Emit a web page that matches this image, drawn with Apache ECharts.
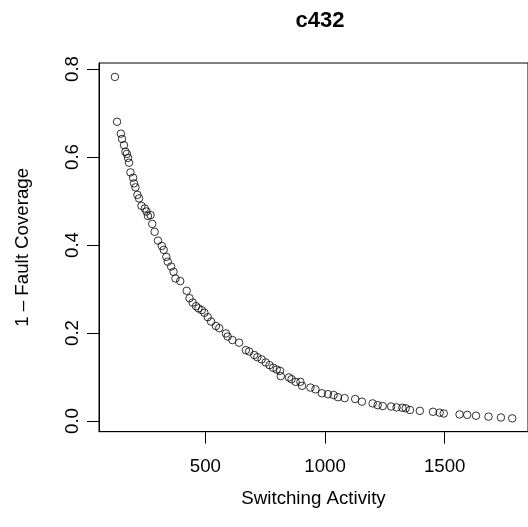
<!DOCTYPE html>
<html>
<head>
<meta charset="utf-8">
<script src="https://cdn.jsdelivr.net/npm/echarts@6/dist/echarts.min.js"></script>
<style>
html,body{margin:0;padding:0;background:#fff;}
#chart{width:528px;height:527px;}
</style>
</head>
<body>
<div id="chart"></div>
<script>
// Switching activity (x) and 1 - fault coverage (y)
const switchingActivity = [
  122,131,147,152,160,166,172,177,181,187,198,202,208,216,223,233,247,254,260,
  271,278,288,302,318,326,337,343,357,367,375,395,422,434,447,461,471,485,496,
  510,524,544,558,586,593,613,641,669,683,704,717,
  735,752,768,783,798,
  812,815,849,860,877,897,904,939,960,987,1012,1036,1054,1082,1126,1154,1199,
  1220,1241,1276,1299,1323,1337,1355,1396,1451,1479,1496,1562,1594,1631,1683,
  1735,1782
];
const faultCoverageGap = [
  0.782,0.680,0.653,0.641,0.627,0.612,0.607,0.598,0.587,0.565,0.553,0.540,0.531,0.514,0.506,0.489,0.483,0.476,0.466,
  0.468,0.448,0.430,0.410,0.398,0.389,0.373,0.362,0.351,0.339,0.324,0.318,0.296,0.279,0.269,0.261,0.256,0.252,0.246,
  0.236,0.226,0.216,0.211,0.199,0.192,0.184,0.178,0.161,0.158,0.150,0.145,
  0.140,0.133,0.127,0.121,0.117,
  0.114,0.102,0.099,0.095,0.089,0.089,0.080,0.076,0.072,0.063,0.061,0.059,0.054,0.052,0.050,0.044,0.040,
  0.036,0.034,0.033,0.031,0.030,0.029,0.025,0.023,0.021,0.019,0.017,0.015,0.014,0.012,0.010,
  0.008,0.006
];
const xTicks = [500, 1000, 1500];
const yTicks = [0.0, 0.2, 0.4, 0.6, 0.8];
const chartTitle = 'c432';
const xTitle = 'Switching Activity';
const yTitle = '1 \u2013 Fault Coverage';

const points = switchingActivity.map((x, i) => [x, faultCoverageGap[i]]);
const FONT = '"Liberation Sans", Arial, Helvetica, sans-serif';

const chart = echarts.init(document.getElementById('chart'), null, {renderer: 'canvas'});
chart.setOption({
  animation: false,
  backgroundColor: '#fff',
  title: {
    text: chartTitle,
    left: 315, top: 5,
    textAlign: 'center',
    textStyle: {fontFamily: FONT, fontSize: 22, fontWeight: 'bold', color: '#000'}
  },
  grid: {
    left: 99, top: 63, right: -2.4, bottom: 95.3,
    show: true, borderColor: '#000', borderWidth: 1, backgroundColor: 'transparent'
  },
  xAxis: {
    type: 'value', min: 55.6, max: 1848,
    name: xTitle, nameLocation: 'middle', nameGap: 58,
    nameTextStyle: {fontFamily: FONT, fontSize: 18.7, color: '#000'},
    axisLine: {show: true, onZero: false, lineStyle: {color: '#000', width: 1}},
    axisTick: {show: true, inside: false, length: 12, customValues: xTicks, lineStyle: {color: '#000', width: 1}},
    axisLabel: {show: true, margin: 26, customValues: xTicks,
      formatter: v => String(Math.round(v)),
      fontFamily: FONT, fontSize: 18.7, color: '#000'},
    splitLine: {show: false}
  },
  yAxis: {
    type: 'value', min: -0.0243, max: 0.8136,
    name: yTitle, nameLocation: 'middle', nameGap: 67, nameRotate: 90,
    nameTextStyle: {fontFamily: FONT, fontSize: 18.7, color: '#000'},
    axisLine: {show: true, onZero: false, lineStyle: {color: '#000', width: 1}},
    axisTick: {show: true, inside: false, length: 12, customValues: yTicks, lineStyle: {color: '#000', width: 1}},
    axisLabel: {show: true, margin: 17, rotate: 90, customValues: yTicks,
      formatter: v => Number(v).toFixed(1),
      fontFamily: FONT, fontSize: 18.7, color: '#000'},
    splitLine: {show: false}
  },
  series: [{
    type: 'scatter',
    data: points,
    symbol: 'circle',
    symbolSize: 7.5,
    itemStyle: {color: 'rgba(0,0,0,0)', borderColor: '#000', borderWidth: 1},
    emphasis: {disabled: true},
    silent: true
  }]
});
</script>
</body>
</html>
